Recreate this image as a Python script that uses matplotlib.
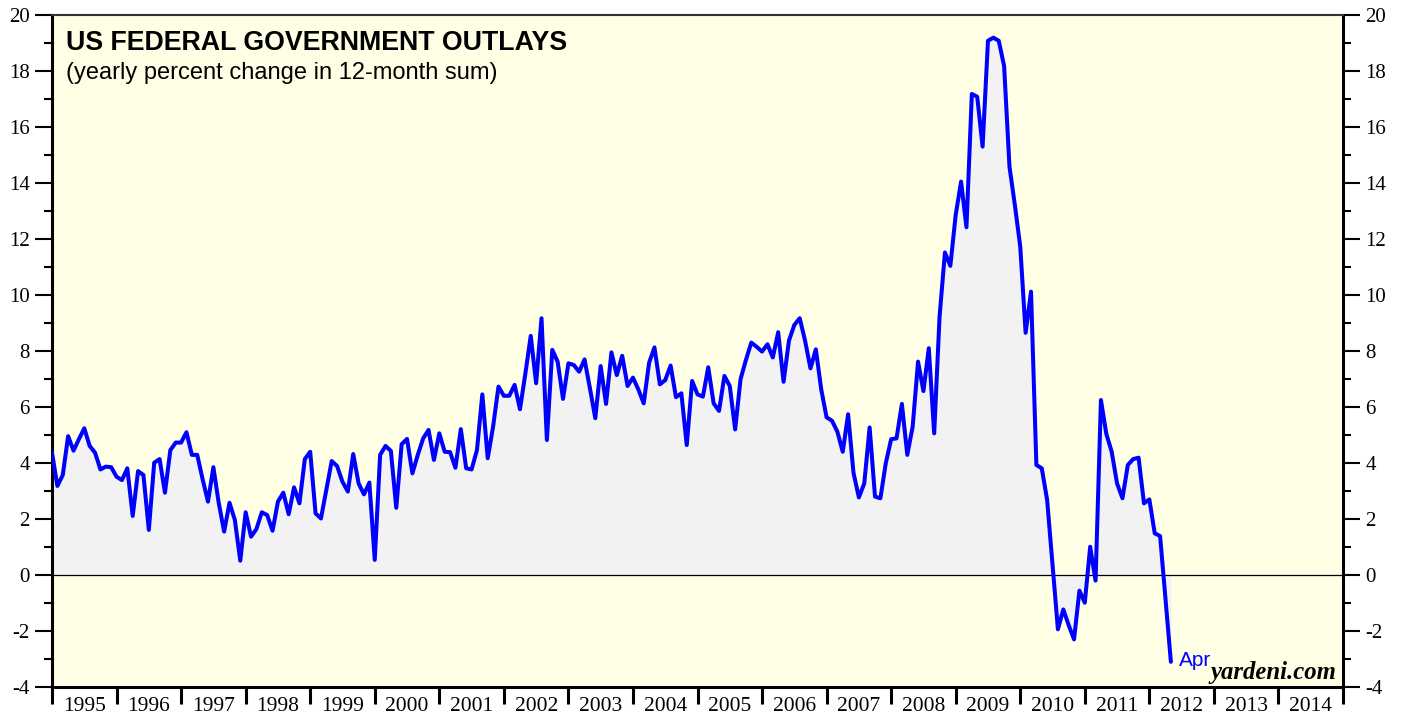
import numpy as np
import matplotlib
matplotlib.use("Agg")
import matplotlib.pyplot as plt
from matplotlib.ticker import MultipleLocator, FixedLocator, NullFormatter, FixedFormatter

plt.rcParams["axes.unicode_minus"] = False

# Monthly values, Dec 1994 .. Apr 2012 (yearly % change in 12-month sum)
outlays_1995_1998 = [4.37, 3.18, 3.57, 4.96, 4.44, 4.85, 5.24, 4.61, 4.37, 3.77,
                     3.87, 3.85, 3.51, 3.39, 3.81, 2.11, 3.71, 3.57, 1.61, 4.01,
                     4.14, 2.94, 4.46, 4.73, 4.73, 5.10, 4.29, 4.29, 3.42, 2.62,
                     3.85, 2.57, 1.55, 2.58, 1.96, 0.51, 2.24, 1.37, 1.64, 2.24,
                     2.14, 1.58, 2.62, 2.94, 2.17, 3.13, 2.56]
outlays_1999_2002 = [4.14, 4.40, 2.20, 2.02, 3.04, 4.07, 3.89, 3.33, 2.98, 4.32,
                     3.27, 2.88, 3.30, 0.54, 4.29, 4.61, 4.43, 2.40, 4.67, 4.86,
                     3.63, 4.29, 4.88, 5.18, 4.11, 5.06, 4.40, 4.39, 3.83, 5.21,
                     3.81, 3.77, 4.46, 6.45, 4.17, 5.30, 6.73, 6.40, 6.40, 6.79,
                     5.92]
outlays_2002_2005 = [7.20, 8.54, 6.85, 9.17, 4.82, 8.04, 7.62, 6.29, 7.56, 7.50,
                     7.26, 7.70, 6.67, 5.60, 7.46, 6.11, 7.95, 7.14, 7.83, 6.75,
                     7.05, 6.63, 6.13, 7.58, 8.13, 6.81, 6.96, 7.48, 6.35, 6.49,
                     4.64, 6.93, 6.45, 6.37, 7.42, 6.13, 5.86, 7.11, 6.75, 5.20,
                     6.99]
outlays_2005_2008 = [7.68, 8.30, 8.15, 7.98, 8.24, 7.77, 8.67, 6.90, 8.37, 8.93,
                     9.17, 8.37, 7.38, 8.06, 6.63, 5.63, 5.51, 5.12, 4.40, 5.74,
                     3.65, 2.77, 3.27, 5.27, 2.80, 2.74, 3.99, 4.85, 4.88, 6.11,
                     4.29, 5.30, 7.62, 6.57, 8.10, 5.06]
outlays_2008_2010 = [9.23, 11.52, 11.04, 12.86, 14.05, 12.42, 17.18, 17.08, 15.30, 19.08,
                     19.19, 19.08, 18.18, 14.58, 13.21, 11.73, 8.65, 10.12]
outlays_2010_2012 = [3.93, 3.81, 2.68, 0.37, -1.94, -1.23, -1.79, -2.30, -0.56, -0.99,
                     1.01, -0.20, 6.25, 5.04, 4.40, 3.27, 2.74, 3.93, 4.14, 4.19,
                     2.56, 2.70, 1.49, 1.39, -0.85, -3.10]

values = np.array(outlays_1995_1998 + outlays_1999_2002 + outlays_2002_2005 +
                  outlays_2005_2008 + outlays_2008_2010 + outlays_2010_2012)
start_year = 1995.0  # end of Dec 1994
dates = start_year + np.arange(len(values)) / 12.0

years = list(range(1995, 2015))
year_labels = [str(y) for y in years]

title = "US FEDERAL GOVERNMENT OUTLAYS"
subtitle = "(yearly percent change in 12-month sum)"
last_label = "Apr"
source = "yardeni.com"

W, H = 1407, 719
fig = plt.figure(figsize=(W / 100, H / 100), dpi=100)
fig.patch.set_facecolor("white")
x0, x1, ytop, ybot = 52, 1343, 15, 687
ax = fig.add_axes([x0 / W, (H - ybot) / H, (x1 - x0) / W, (ybot - ytop) / H])
ax.set_facecolor("#FFFFE6")

ax.fill_between(dates, values, 0, color="#F2F2F2", linewidth=0, zorder=1)
ax.axhline(0, color="black", linewidth=0.9, zorder=2)
ax.plot(dates, values, color="#0000FF", linewidth=2.9, solid_joinstyle="round",
        solid_capstyle="round", zorder=3)

ax.set_xlim(1995, 2015)
ax.set_ylim(-4, 20)

serif = "Liberation Serif"
# y axis
ax.yaxis.set_major_locator(MultipleLocator(2))
ax.yaxis.set_minor_locator(MultipleLocator(1))
ax.tick_params(axis="y", which="major", direction="out", length=12, width=1.5,
               left=True, right=True, labelleft=True, labelright=True, pad=4,
               labelsize=15)
ax.tick_params(axis="y", which="minor", direction="out", length=6, width=1.5,
               left=True, right=True)
for lab in ax.get_yticklabels():
    lab.set_fontfamily(serif)

# x axis: ticks at year boundaries, labels mid-year
ax.xaxis.set_major_locator(FixedLocator(list(range(1995, 2016))))
ax.xaxis.set_major_formatter(NullFormatter())
ax.xaxis.set_minor_locator(FixedLocator([y + 0.5 for y in years]))
ax.xaxis.set_minor_formatter(FixedFormatter(year_labels))
ax.tick_params(axis="x", which="major", direction="out", length=12, width=2.2)
ax.tick_params(axis="x", which="minor", length=0, pad=7, labelsize=15.5)
for lab in ax.get_xticklabels(minor=True):
    lab.set_fontfamily(serif)

for side in ["left", "right", "bottom"]:
    ax.spines[side].set_linewidth(2.2)
    ax.spines[side].set_color("black")
ax.spines["top"].set_linewidth(1.5)
ax.spines["top"].set_color("#333333")

ax.text(0.011, 0.978, title, transform=ax.transAxes, ha="left", va="top",
        fontsize=19.3, fontweight="bold", family="Liberation Sans", color="black")
ax.text(0.011, 0.93, subtitle, transform=ax.transAxes, ha="left", va="top",
        fontsize=17, family="Liberation Sans", color="black")

ax.annotate(last_label, xy=(dates[-1], values[-1]), xytext=(6, 1),
            textcoords="offset points", ha="left", va="center",
            color="#0000FF", fontsize=15, family="Liberation Sans")
ax.text(0.995, 0.004, source, transform=ax.transAxes, ha="right", va="bottom",
        fontsize=17.8, fontweight="bold", fontstyle="italic", family=serif, color="black")

fig.savefig("out.png", dpi=100)
